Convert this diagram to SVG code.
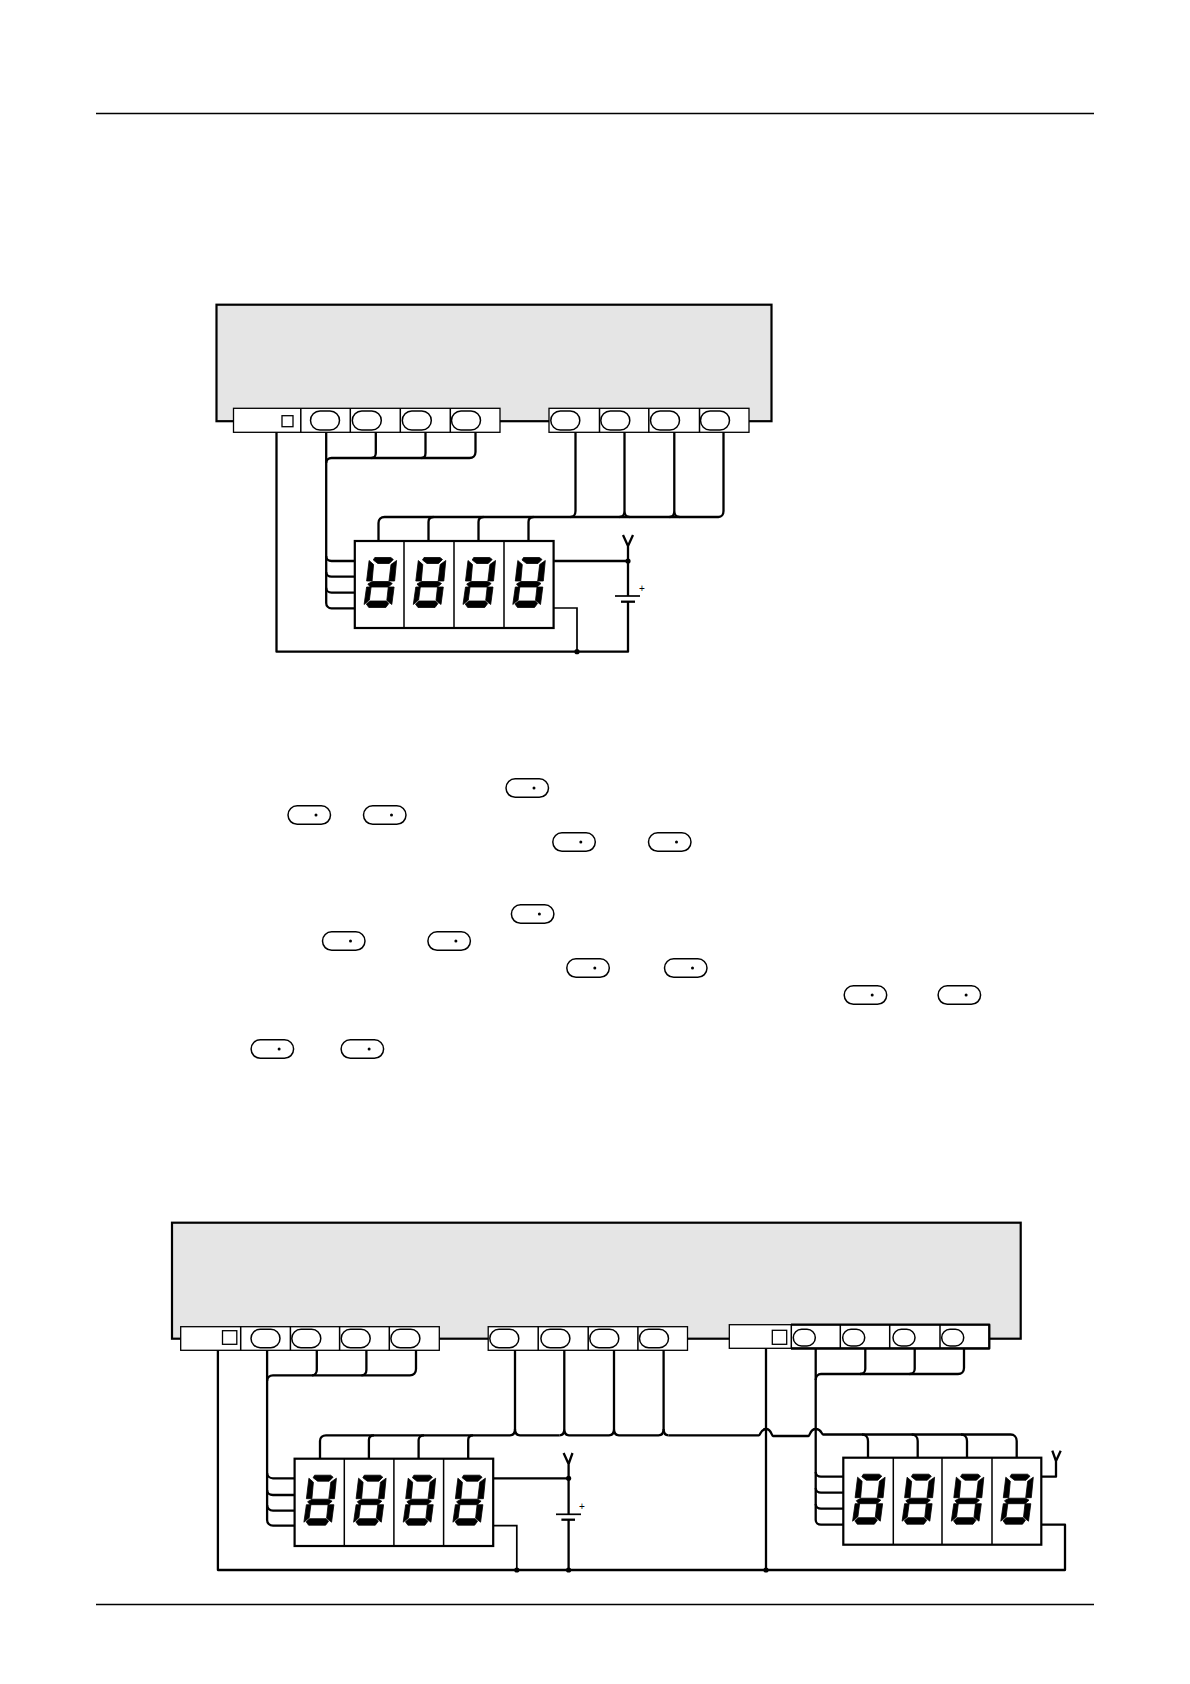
<svg xmlns="http://www.w3.org/2000/svg" width="1190" height="1684" viewBox="0 0 1190 1684">
<style>
.box{fill:#e5e5e5;stroke:#000;stroke-width:2.2}
.strip{fill:#fff;stroke:#000;stroke-width:1.3}
.ln{fill:none;stroke:#000;stroke-width:1.3}
.oval{fill:#fff;stroke:#000;stroke-width:1.5}
.disp{fill:#fff;stroke:#000;stroke-width:2.200}
.div{stroke:#000;stroke-width:1.500;fill:none}
.w{fill:none;stroke:#000;stroke-width:2.300;stroke-linejoin:round}
.t{fill:none;stroke:#000;stroke-width:1.700}
.plus{font:10px "Liberation Sans",sans-serif;fill:#000;text-anchor:middle}
</style>
<defs>
<g id="digit" fill="#000" stroke="#000" stroke-width="0.800">
<polygon points="20,16.500 36,16.500 38.500,18.500 34.500,22.500 23,22.500 18.500,19"/>
<polygon points="14.300,19.500 18.800,23.500 17.300,40 11.800,40"/>
<polygon points="36.200,23.500 41.800,19.500 39.800,40 34.200,40"/>
<polygon points="13,43 17.500,40.500 34,40.500 37.500,42.500 33.500,46 15.500,46"/>
<polygon points="11.800,46 16.300,46 14.600,59 9.300,63.500"/>
<polygon points="33.500,46 39.300,46 37,63.500 32,59.500"/>
<polygon points="15,60 31.500,60 34,62.500 31,66.500 14,66.500 11.500,63"/>
</g>
<g id="pill">
<rect x="0.500" y="0.500" width="42.500" height="18.500" rx="9.200" fill="#fff" stroke="#000" stroke-width="1.500"/>
<circle cx="28.500" cy="9.700" r="1.500" fill="#000"/>
</g>
</defs>
<rect width="1190" height="1684" fill="#fff"/>
<g id="rules" class="ln">
<path d="M96 113.500H1094" class="ln"/>
<path d="M96 1604.500H1094" class="ln"/>
</g>

<g id="module-1">
<rect class="box" x="216.500" y="304.700" width="555" height="116.500"/>
</g>
<g id="connector-1a">
<rect class="strip" x="233.500" y="408.300" width="266.500" height="24"/>
<path class="div" d="M300.800 408.300V432.300M350.300 408.300V432.300M400.300 408.300V432.300M450.300 408.300V432.300"/>
<rect class="strip" x="282" y="415.700" width="11" height="11"/>
<rect class="oval" x="310.500" y="411" width="29" height="19" rx="9.500"/>
<rect class="oval" x="352.300" y="411" width="29" height="19" rx="9.500"/>
<rect class="oval" x="402.300" y="411" width="29" height="19" rx="9.500"/>
<rect class="oval" x="451.500" y="411" width="29" height="19" rx="9.500"/>
</g>
<g id="connector-1b" transform="translate(-2 0)">
<rect class="strip" x="551" y="408.300" width="200" height="24"/>
<path class="div" d="M601.500 408.300V432.300M650.800 408.300V432.300M701.500 408.300V432.300"/>
<rect class="oval" x="552.800" y="411" width="29" height="19" rx="9.500"/>
<rect class="oval" x="602.800" y="411" width="29" height="19" rx="9.500"/>
<rect class="oval" x="652.500" y="411" width="29" height="19" rx="9.500"/>
<rect class="oval" x="702.500" y="411" width="29" height="19" rx="9.500"/>
</g>
<g id="display-1" transform="translate(-1 0)">
<rect class="disp" x="355.800" y="541" width="198.800" height="87"/>
<path class="div" d="M405 541V628M455 541V628M505 541V628"/>
<use href="#digit" transform="translate(355.800 541)"/>
<use href="#digit" transform="translate(405 541)"/>
<use href="#digit" transform="translate(454.700 541)"/>
<use href="#digit" transform="translate(504.500 541)"/>
</g>
<g id="battery-1" transform="translate(-2 0)">
<path class="t" d="M617 596H642"/>
<path class="w" d="M623 601.700H637"/>
<text class="plus" x="644" y="592">+</text>
</g>

<g id="connectors-1" transform="translate(-1.500 0)">
<path class="w" d="M278 432.300V651.700H629.500V602M629.500 596V561M555.600 561H629.500M624.500 535L629.500 546L634.500 535M629.500 546V561"/>
<path class="t" d="M555 608H578.500V651.700"/>
<path class="w" d="M327.700 432.300V603C327.700 606 330 608.300 333 608.300H356"/>
<path class="w" d="M327.700 587.700C327.700 590.500 330 592.700 333 592.700H356M327.700 572C327.700 574.500 330 576.700 333 576.700H356M327.700 556C327.700 558.800 330 561 333 561H356"/>
<path class="w" d="M327.700 463C327.700 460 330 458 333 458H471C474.500 458 477 455.500 477 452V432.300"/>
<path class="w" d="M373 458C375.500 458 377.300 456 377.300 453V432.300M423 458C425.500 458 427 456 427 453V432.300"/>
<path class="w" d="M380 541V523C380 519.500 382.500 517 386 517H720C723 517 725 514.500 725 511V432.300"/>
<path class="w" d="M430 541V522C430 519 432 517 435 517M480 541V522C480 519 482 517 485 517M530 541V522C530 519 532 517 535 517"/>
<path class="w" d="M572 517C575 517 577 514.500 577 511V432.300"/>
<path class="w" d="M621 517C624 517 626 514.500 626 511V432.300M631 517C628 517 626 514.500 626 511"/>
<path class="w" d="M671 517C674 517 675.800 514.500 675.800 511V432.300M681 517C678 517 675.800 514.500 675.800 511"/>
<circle cx="629.500" cy="561" r="2.600"/>
<circle cx="578.500" cy="651.700" r="2.600"/>
</g>

<g id="pills">
<use href="#pill" x="505.500" y="778.300"/>
<use href="#pill" x="287.500" y="805.300"/>
<use href="#pill" x="363" y="805.300"/>
<use href="#pill" x="552.300" y="832.300"/>
<use href="#pill" x="648" y="832.300"/>
<use href="#pill" x="510.900" y="904.300"/>
<use href="#pill" x="322" y="931.300"/>
<use href="#pill" x="427.400" y="931.300"/>
<use href="#pill" x="566.300" y="958.300"/>
<use href="#pill" x="664" y="958.300"/>
<use href="#pill" x="843.700" y="985.300"/>
<use href="#pill" x="937.600" y="985.300"/>
<use href="#pill" x="250.600" y="1039.300"/>
<use href="#pill" x="340.600" y="1039.300"/>
</g>

<g id="module-2">
<rect class="box" x="172" y="1222.700" width="848.700" height="116"/>
</g>
<g id="connector-2a">
<rect class="strip" x="180.700" y="1326.700" width="258.600" height="23.600"/>
<path class="div" d="M240.700 1326.700V1350.300M290.400 1326.700V1350.300M339.600 1326.700V1350.300M389.300 1326.700V1350.300"/>
<rect class="strip" x="222.500" y="1330.700" width="14.300" height="13.600"/>
<rect class="oval" x="251" y="1329.300" width="29" height="18.400" rx="9.200"/>
<rect class="oval" x="291.800" y="1329.300" width="29" height="18.400" rx="9.200"/>
<rect class="oval" x="341.200" y="1329.300" width="29" height="18.400" rx="9.200"/>
<rect class="oval" x="390.900" y="1329.300" width="29" height="18.400" rx="9.200"/>
</g>
<g id="connector-2b">
<rect class="strip" x="488.200" y="1326.700" width="199.300" height="23.600"/>
<path class="div" d="M538.200 1326.700V1350.300M588.200 1326.700V1350.300M637.900 1326.700V1350.300"/>
<rect class="oval" x="489.800" y="1329.300" width="29" height="18.400" rx="9.200"/>
<rect class="oval" x="540.900" y="1329.300" width="29" height="18.400" rx="9.200"/>
<rect class="oval" x="589.800" y="1329.300" width="29" height="18.400" rx="9.200"/>
<rect class="oval" x="639.500" y="1329.300" width="29" height="18.400" rx="9.200"/>
</g>
<g id="connector-2c">
<rect class="strip" x="729.300" y="1324.700" width="260" height="23.600"/>
<path class="div" d="M791.300 1324.700V1348.800M840.300 1324.700V1348.300M889.700 1324.700V1348.300M940 1324.700V1348.300"/>
<path class="w" d="M791 1348.500H989.300V1324.700H791"/>
<rect class="strip" x="772.300" y="1330.300" width="14.400" height="14"/>
<rect class="oval" x="793.300" y="1329.300" width="22" height="16.700" rx="8.300"/>
<rect class="oval" x="842.700" y="1329.300" width="22" height="16.700" rx="8.300"/>
<rect class="oval" x="893" y="1329.300" width="22" height="16.700" rx="8.300"/>
<rect class="oval" x="941.700" y="1329.300" width="22" height="16.700" rx="8.300"/>
</g>
<g id="display-2">
<rect class="disp" x="294.600" y="1458.700" width="198.600" height="87.300"/>
<path class="div" d="M344.300 1458.700V1546M393.900 1458.700V1546M443.600 1458.700V1546"/>
<use href="#digit" transform="translate(294.600 1458.700)"/>
<use href="#digit" transform="translate(344.300 1458.700)"/>
<use href="#digit" transform="translate(393.900 1458.700)"/>
<use href="#digit" transform="translate(443.600 1458.700)"/>
</g>
<g id="display-3">
<rect class="disp" x="843.300" y="1457.700" width="198" height="87"/>
<path class="div" d="M893.300 1457.700V1544.700M942 1457.700V1544.700M992 1457.700V1544.700"/>
<use href="#digit" transform="translate(843.300 1457.700)"/>
<use href="#digit" transform="translate(892.800 1457.700)"/>
<use href="#digit" transform="translate(942 1457.700)"/>
<use href="#digit" transform="translate(991.500 1457.700)"/>
</g>
<g id="battery-2">
<path class="t" d="M556 1514.300H581"/>
<path class="w" d="M561.400 1519.700H575"/>
<text class="plus" x="582" y="1510">+</text>
</g>

<g id="connectors-2">
<path class="w" d="M217.900 1350.300V1570H1065V1524.700H1041.300"/>
<path class="w" d="M766 1348.300V1570"/>
<path class="w" d="M493.200 1478.300H568.600V1514M568.600 1520V1570M563.600 1453L568.600 1464L572.500 1453M568.600 1464V1478.300"/>
<path class="t" d="M493.200 1525.700H516.800V1570"/>
<path class="w" d="M267.100 1350.300V1520C267.100 1523 269.500 1525.700 273 1525.700H294.600"/>
<path class="w" d="M267.100 1505C267.100 1508 269.500 1510.700 273 1510.700H294.600M267.100 1490C267.100 1493 269.500 1495 273 1495H294.600M267.100 1473C267.100 1476 269.500 1478.300 273 1478.300H294.600"/>
<path class="w" d="M267.100 1381C267.100 1377.500 269.500 1375.300 273 1375.300H410C413.500 1375.300 416 1373 416 1369V1350.300"/>
<path class="w" d="M312 1375.300C315 1375.300 316.800 1373 316.800 1370V1350.300M361.500 1375.300C364.500 1375.300 366.400 1373 366.400 1370V1350.300"/>
<path class="w" d="M320 1458.700V1441C320 1437.500 322.500 1435.300 326 1435.300H510C513 1435.300 515 1433 515 1429V1350.300"/>
<path class="w" d="M368.900 1458.700V1440C368.900 1437 371 1435.300 374 1435.300M418.600 1458.700V1440C418.600 1437 421 1435.300 424 1435.300M468.200 1458.700V1440C468.200 1437 470 1435.300 473 1435.300"/>
<path class="w" d="M520 1435.300C517 1435.300 515 1433 515 1429M559.500 1435.300C562.500 1435.300 564.300 1433 564.300 1429V1350.300M569 1435.300C566 1435.300 564.300 1433 564.300 1429"/>
<path class="w" d="M520 1435.300H559.500M569 1435.300H609M609 1435.300C612 1435.300 614 1433 614 1429V1350.300M619 1435.300C616 1435.300 614 1433 614 1429M619 1435.300H658.500C661.500 1435.300 663.600 1433 663.600 1429V1350.300"/>
<path class="w" d="M668.500 1435.300C665.500 1435.300 663.600 1433 663.600 1429"/>
<path class="w" d="M668.500 1435.300H759C760.500 1435.300 760.500 1429 766 1429C771.500 1429 771.500 1436 773 1436H808.500C810 1436 810 1429 815.700 1429C821.500 1429 821.500 1434.500 823 1434.500H1010.700C1014 1434.500 1016.700 1437 1016.700 1441V1457.700"/>
<path class="w" d="M862 1434.500C865.500 1434.500 868 1437 868 1441V1457.700M911.700 1434.500C915 1434.500 917.700 1437 917.700 1441V1457.700M961 1434.500C964.500 1434.500 967 1437 967 1441V1457.700"/>
<path class="w" d="M815.700 1348.300V1520C815.700 1522.500 818 1524.700 821 1524.700H843.300"/>
<path class="w" d="M815.700 1504C815.700 1506.500 818 1508.700 821 1508.700H843.300M815.700 1488C815.700 1490.500 818 1492.700 821 1492.700H843.300M815.700 1472C815.700 1474.500 818 1476.700 821 1476.700H843.300"/>
<path class="w" d="M815.700 1380C815.700 1376.500 818 1374 821 1374H958C961.500 1374 964 1371.500 964 1368V1348.300"/>
<path class="w" d="M860 1374C863 1374 865.300 1372 865.300 1369V1348.300M909.500 1374C912.500 1374 914.700 1372 914.700 1369V1348.300"/>
<path class="w" d="M1041.300 1476.700H1056V1460M1052.300 1450.700L1056 1461L1060.700 1450.700"/>
<circle cx="568.600" cy="1478.300" r="2.600"/>
<circle cx="516.800" cy="1570" r="2.600"/>
<circle cx="568.600" cy="1570" r="2.600"/>
<circle cx="766" cy="1570" r="2.600"/>
</g>
</svg>
